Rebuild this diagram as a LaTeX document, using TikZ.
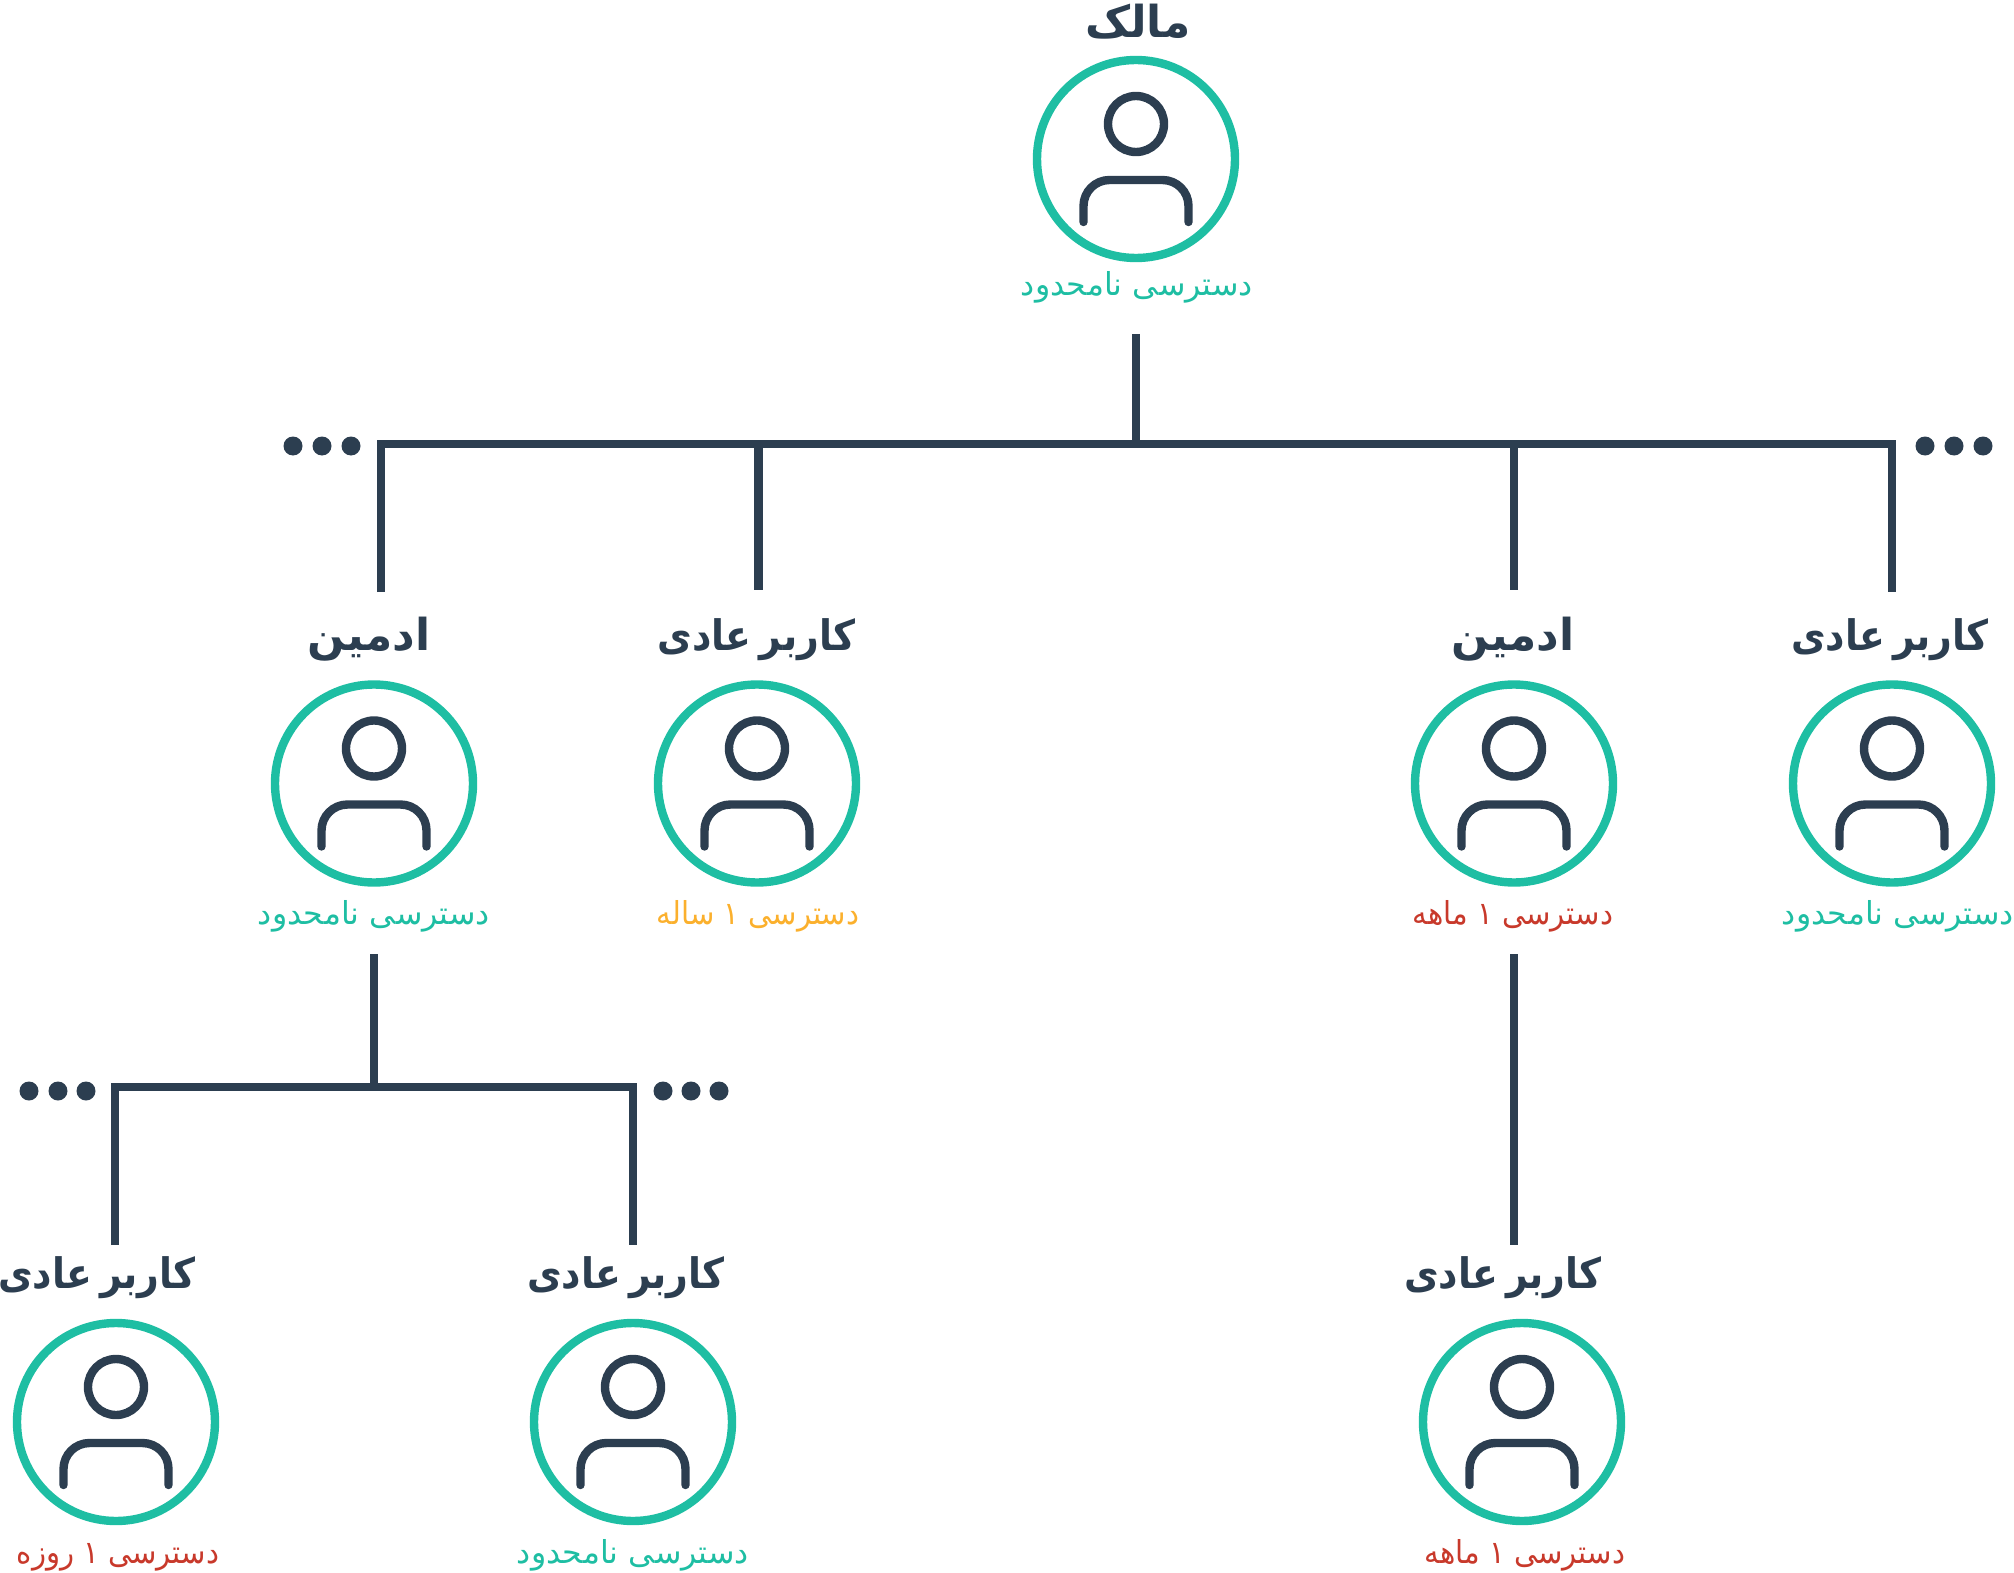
\documentclass[tikz,border=0pt]{standalone}
\usepackage{fontspec}
\TeXXeTstate=1
\newfontfamily\fafont[Script=Arabic]{DejaVu Sans}
\newfontfamily\fanarrow[Script=Arabic, FakeStretch=0.9, WordSpace=0.6]{DejaVu Sans}
\newfontfamily\fashort[Script=Arabic, FakeStretch=0.92]{DejaVu Sans}
\newcommand{\fa}[1]{\beginR #1\endR}
\definecolor{navy}{HTML}{2C3E50}
\definecolor{teal}{HTML}{1EBEA3}
\definecolor{brick}{HTML}{C8392B}
\definecolor{amber}{HTML}{FBB02D}
\tikzset{
  usercircle/.style={circle, draw=teal, line width=4.2pt, minimum size=99pt, inner sep=0pt, outer sep=0pt},
  usertitle/.style={anchor=base, navy, inner sep=0pt, font=\fafont\bfseries\fontsize{22}{26}\selectfont},
  usernarrow/.style={usertitle, font=\fanarrow\bfseries\fontsize{21}{25}\selectfont},
  useraccess/.style={anchor=base, inner sep=0pt, font=\fafont\fontsize{15.8}{19}\selectfont},
  usershort/.style={useraccess, font=\fashort\fontsize{15.8}{19}\selectfont},
  link/.style={navy, line width=4.25pt},
  usericon/.pic={
    \draw[navy, line width=4.2pt] (0,-35) circle (28);
    \draw[navy, line width=4.2pt, line cap=round, rounded corners=13pt] (-52.5,63) -- (-52.5,21) -- (52.5,21) -- (52.5,63);
  }
}
\begin{document}
\begin{tikzpicture}[x=0.5pt, y=-0.5pt]
  \useasboundingbox (0,0) rectangle (2014,1573);
  % Owner
  \node[usercircle] (owner) at (1136,159) {};
  \pic at (owner) {usericon};
  \node[usertitle] (ownertitle) at (1138,38) {\fa{مالک}};
  \node[useraccess, teal] (owneraccess) at (1137,296) {\fa{دسترسی نامحدود}};
  % Second row
  \node[usercircle] (adminleft) at (374,783.5) {};
  \pic at (adminleft) {usericon};
  \node[usertitle] (adminlefttitle) at (369,650) {\fa{ادمین}};
  \node[useraccess, teal] (adminleftaccess) at (374,924) {\fa{دسترسی نامحدود}};
  \node[usercircle] (userleft) at (757,783.5) {};
  \pic at (userleft) {usericon};
  \node[usernarrow] (userlefttitle) at (756.5,650) {\fa{کاربر عادی}};
  \node[usershort, amber] (userleftaccess) at (758,924) {\fa{دسترسی ۱ ساله}};
  \node[usercircle] (adminright) at (1514,783.5) {};
  \pic at (adminright) {usericon};
  \node[usertitle] (adminrighttitle) at (1513,650) {\fa{ادمین}};
  \node[usershort, brick] (adminrightaccess) at (1513,924) {\fa{دسترسی ۱ ماهه}};
  \node[usercircle] (userright) at (1892,783.5) {};
  \pic at (userright) {usericon};
  \node[usernarrow] (userrighttitle) at (1890,650) {\fa{کاربر عادی}};
  \node[useraccess, teal] (userrightaccess) at (1898,924) {\fa{دسترسی نامحدود}};
  % Third row
  \node[usercircle] (userone) at (116,1422) {};
  \pic at (userone) {usericon};
  \node[usernarrow] (useronetitle) at (97,1288) {\fa{کاربر عادی}};
  \node[usershort, brick] (useroneaccess) at (118,1563) {\fa{دسترسی ۱ روزه}};
  \node[usercircle] (usertwo) at (633,1422) {};
  \pic at (usertwo) {usericon};
  \node[usernarrow] (usertwotitle) at (626,1288) {\fa{کاربر عادی}};
  \node[useraccess, teal] (usertwoaccess) at (633,1563) {\fa{دسترسی نامحدود}};
  \node[usercircle] (userthree) at (1522,1422) {};
  \pic at (userthree) {usericon};
  \node[usernarrow] (userthreetitle) at (1503,1288) {\fa{کاربر عادی}};
  \node[usershort, brick] (userthreeaccess) at (1525,1563) {\fa{دسترسی ۱ ماهه}};
  % Connector ends
  \coordinate (ownerstem) at (1136,334);
  \coordinate (ownerbus) at (1136,448);
  \coordinate (topbus) at (1136,444);
  \coordinate (adminleftin) at (381,592);
  \coordinate (userleftbus) at (758.5,444);
  \coordinate (userleftin) at (758.5,590);
  \coordinate (adminrightbus) at (1514,444);
  \coordinate (adminrightin) at (1514,590);
  \coordinate (userrightin) at (1892,592);
  \coordinate (adminstem) at (374,954);
  \coordinate (adminbus) at (374,1091);
  \coordinate (useronein) at (115,1245);
  \coordinate (usertwoin) at (633,1245);
  \coordinate (managerstem) at (1514,954);
  \coordinate (managerin) at (1514,1245);
  % Tree
  \draw[link] (adminleftin) |- (userrightin |- topbus) -- (userrightin);
  \draw[link] (ownerstem) -- (ownerbus);
  \draw[link] (userleftbus) -- (userleftin);
  \draw[link] (adminrightbus) -- (adminrightin);
  \draw[link] (useronein) |- (usertwoin |- 0,1087) -- (usertwoin);
  \draw[link] (adminstem) -- (adminbus);
  \draw[link] (managerstem) -- (managerin);
  % Dots
  \foreach \x in {293,322,351,1925,1954,1983} \fill[navy] (\x,446) circle (9.5);
  \foreach \x in {29,58,86,663,691,719} \fill[navy] (\x,1091) circle (9.5);
\end{tikzpicture}
\end{document}
